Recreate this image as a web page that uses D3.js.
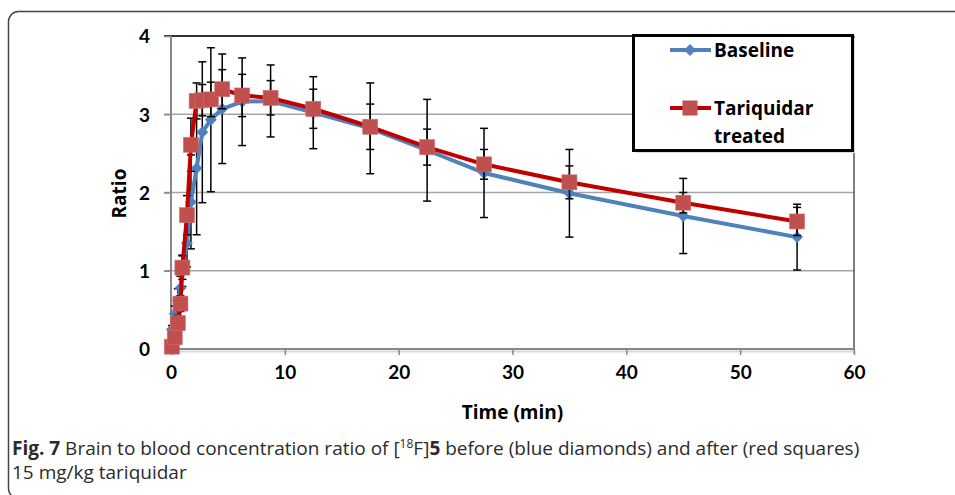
<!DOCTYPE html>
<html><head><meta charset="utf-8">
<script src="https://cdn.jsdelivr.net/npm/d3@7/dist/d3.min.js"></script>
<style>body{margin:0;background:#fff}svg{display:block}</style>
</head><body>
<svg id="c" width="955" height="495"></svg>
<script>
const times = [0.08, 0.33, 0.6, 0.83, 1.0, 1.4, 1.75, 2.25, 2.75, 3.5, 4.5, 6.25, 8.75, 12.5, 17.5, 22.5, 27.5, 35, 45, 55];
const baseline = [0.25, 0.45, 0.62, 0.78, 1.0, 1.35, 1.88, 2.31, 2.77, 2.93, 3.07, 3.16, 3.17, 3.02, 2.82, 2.54, 2.25, 1.99, 1.70, 1.43];
const baselineErr = [0.05, 0.1, 0.15, 0.15, 0.2, 0.3, 0.6, 0.85, 0.9, 0.92, 0.70, 0.56, 0.46, 0.46, 0.58, 0.65, 0.57, 0.56, 0.48, 0.42];
const treated = [0.03, 0.15, 0.33, 0.58, 1.04, 1.71, 2.61, 3.17, 3.18, 3.19, 3.32, 3.24, 3.21, 3.07, 2.84, 2.58, 2.36, 2.13, 1.87, 1.63];
const treatedErr = [0.02, 0.05, 0.1, 0.1, 0.15, 0.25, 0.34, 0.23, 0.2, 0.22, 0.25, 0.27, 0.22, 0.25, 0.29, 0.23, 0.19, 0.21, 0.13, 0.18];
const xTicks = [0, 10, 20, 30, 40, 50, 60];
const yTicks = [0, 1, 2, 3, 4];
const seriesNames = ["Baseline", "Tariquidar", "treated"];

const svg = d3.select("#c");
const L = 171, R = 854, T = 36, B = 349;
const x = d3.scaleLinear().domain([0, 60]).range([L, R]);
const y = d3.scaleLinear().domain([0, 4]).range([B, T]);
const font = "Lato, 'Open Sans', sans-serif";
const font2 = "'Open Sans', Lato, sans-serif";

// outer figure frame
svg.append("rect").attr("x", 8.5).attr("y", 11.5).attr("width", 1000).attr("height", 487)
  .attr("rx", 10).attr("fill", "none").attr("stroke", "#444").attr("stroke-width", 1.5);

// gridlines
svg.append("g").selectAll("line").data(yTicks.filter(d => d > 0 && d < 4)).join("line")
  .attr("x1", L - 7).attr("x2", R).attr("y1", d => y(d)).attr("y2", d => y(d))
  .attr("stroke", "#a6a6a6").attr("stroke-width", 1.5);

// plot border (top/right dark)
svg.append("line").attr("x1", L - 7).attr("x2", R).attr("y1", y(4)).attr("y2", y(4)).attr("stroke", "#333").attr("stroke-width", 2);
svg.append("line").attr("x1", R).attr("x2", R).attr("y1", T).attr("y2", B + 4).attr("stroke", "#555").attr("stroke-width", 1.5);

// bottom shadow
svg.append("line").attr("x1", L).attr("x2", R).attr("y1", B + 2.5).attr("y2", B + 2.5).attr("stroke", "#d9d9d9").attr("stroke-width", 2);

// axes
const yAxis = d3.axisLeft(y).tickValues(yTicks).tickSize(7).tickFormat(d3.format("d"));
const gy = svg.append("g").attr("transform", `translate(${L},0)`).call(yAxis);
const xAxis = d3.axisBottom(x).tickValues(xTicks).tickSize(6).tickFormat(d3.format("d"));
const gx = svg.append("g").attr("transform", `translate(0,${B})`).call(xAxis);
[gx, gy].forEach(g => {
  g.select(".domain").attr("stroke", "#888").attr("stroke-width", 2);
  g.selectAll(".tick line").attr("stroke", "#888").attr("stroke-width", 1.5);
  g.selectAll(".tick text").attr("fill", "#000").attr("font-family", font)
    .attr("font-weight", "bold").attr("font-size", 19);
});
gy.select(".domain").attr("d", `M0,${B}V${T}`);
gx.select(".domain").attr("d", `M${L},0H${R}`);
gy.selectAll(".tick text").attr("x", -21).attr("dy", "0.36em");
gx.selectAll(".tick text").attr("y", 17).attr("dy", "0.71em");

// axis titles
svg.append("text").attr("x", (L + R) / 2).attr("y", 419).attr("text-anchor", "middle")
  .attr("font-family", font2).attr("font-weight", "bold").attr("font-size", 19).text("Time (min)");
svg.append("text").attr("transform", `translate(126,${(T + B) / 2 + 1}) rotate(-90)`).attr("text-anchor", "middle")
  .attr("font-family", font2).attr("font-weight", "bold").attr("font-size", 19).text("Ratio");

const data = times.map((t, i) => ({t, b: baseline[i], be: baselineErr[i], r: treated[i], re: treatedErr[i]}));

// error bars
function errBars(key, ekey) {
  const g = svg.append("g").attr("stroke", "#000").attr("stroke-width", 1.5);
  data.forEach(d => {
    const cx = x(d.t), y1 = y(d[key] + d[ekey]), y2 = y(d[key] - d[ekey]);
    g.append("line").attr("x1", cx).attr("x2", cx).attr("y1", y1).attr("y2", y2);
    g.append("line").attr("x1", cx - 4).attr("x2", cx + 4).attr("y1", y1).attr("y2", y1);
    g.append("line").attr("x1", cx - 4).attr("x2", cx + 4).attr("y1", y2).attr("y2", y2);
  });
}
errBars("b", "be");

const blue = "#4f81bd", redLine = "#c00000", redMark = "#c0504d";
const lineB = d3.line().x(d => x(d.t)).y(d => y(d.b));
svg.append("path").attr("d", lineB(data)).attr("fill", "none").attr("stroke", blue).attr("stroke-width", 4).attr("stroke-linejoin", "round");
svg.append("g").selectAll("path").data(data).join("path")
  .attr("transform", d => `translate(${x(d.t)},${y(d.b)})`)
  .attr("d", d3.symbol(d3.symbolDiamond2, 90)()).attr("fill", blue);

errBars("r", "re");
const lineR = d3.line().x(d => x(d.t)).y(d => y(d.r));
svg.append("path").attr("d", lineR(data)).attr("fill", "none").attr("stroke", redLine).attr("stroke-width", 4).attr("stroke-linejoin", "round");
svg.append("g").selectAll("rect").data(data).join("rect")
  .attr("x", d => x(d.t) - 7.5).attr("y", d => y(d.r) - 7.5).attr("width", 15).attr("height", 15)
  .attr("fill", redMark).attr("stroke", "#d07070").attr("stroke-width", 0.6);

// legend
const lg = svg.append("g");
lg.append("rect").attr("x", 636).attr("y", 38).attr("width", 219).attr("height", 115).attr("fill", "#ddd");
lg.append("rect").attr("x", 633.5).attr("y", 35.5).attr("width", 219).attr("height", 115)
  .attr("fill", "#fff").attr("stroke", "#000").attr("stroke-width", 3);
lg.append("line").attr("x1", 670).attr("x2", 711).attr("y1", 50).attr("y2", 50).attr("stroke", blue).attr("stroke-width", 4);
lg.append("path").attr("transform", "translate(690,50)").attr("d", d3.symbol(d3.symbolDiamond2, 90)()).attr("fill", blue);
lg.append("line").attr("x1", 670).attr("x2", 711).attr("y1", 108).attr("y2", 108).attr("stroke", redLine).attr("stroke-width", 4);
lg.append("rect").attr("x", 682.5).attr("y", 100.5).attr("width", 15).attr("height", 15).attr("fill", redMark);
const lt = lg.append("g").attr("font-family", font2).attr("font-weight", "bold").attr("font-size", 19).attr("fill", "#000");
lt.append("text").attr("x", 714).attr("y", 57).text(seriesNames[0]);
lt.append("text").attr("x", 714).attr("y", 115).text(seriesNames[1]);
lt.append("text").attr("x", 714).attr("y", 143).text(seriesNames[2]);

// caption
const cap = svg.append("g").attr("font-family", "'Open Sans', sans-serif").attr("font-size", 19).attr("fill", "#2b2b2b");
const t1 = cap.append("text").attr("x", 12).attr("y", 455);
t1.append("tspan").attr("font-weight", "bold").text("Fig. 7");
t1.append("tspan").text(" Brain to blood concentration ratio of [");
t1.append("tspan").attr("font-size", 12).attr("dy", -7).text("18");
t1.append("tspan").attr("dy", 7).text("F]");
t1.append("tspan").attr("font-weight", "bold").text("5");
t1.append("tspan").text(" before (blue diamonds) and after (red squares)");
cap.append("text").attr("x", 12).attr("y", 479).text("15 mg/kg tariquidar");
</script>
</body></html>
